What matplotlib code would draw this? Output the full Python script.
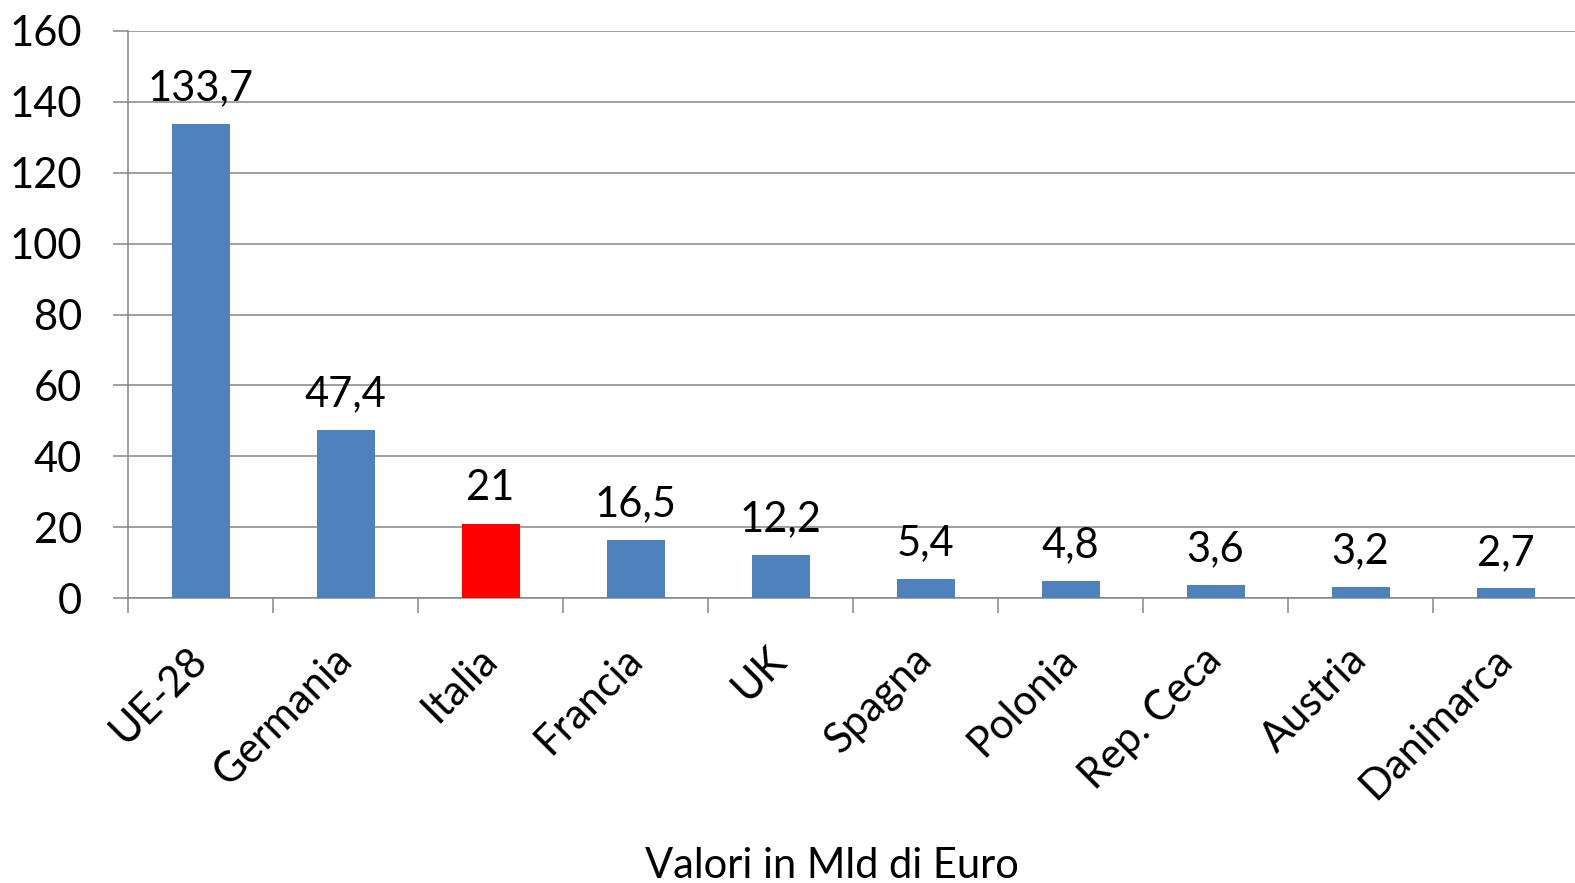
import matplotlib.pyplot as plt
import numpy as np

# data
paesi = ['UE-28', 'Germania', 'Italia', 'Francia', 'UK', 'Spagna',
         'Polonia', 'Rep. Ceca', 'Austria', 'Danimarca']
valori = [133.7, 47.4, 21, 16.5, 12.2, 5.4, 4.8, 3.6, 3.2, 2.7]
evidenza = 'Italia'

y_ticks = [0, 20, 40, 60, 80, 100, 120, 140, 160]
x_titolo = 'Valori in Mld di Euro'

BLU = '#4f81bd'
ROSSO = '#ff0000'
GRIGIO = '#868686'

plt.rcParams['font.family'] = ['Lato', 'DejaVu Sans']

fig = plt.figure(figsize=(15.75, 8.83), dpi=100)
ax = fig.add_axes([128/1575, 285/883, 1450/1575, 567/883])

x = np.arange(len(paesi))
colori = [ROSSO if p == evidenza else BLU for p in paesi]
bars = ax.bar(x, valori, width=0.4, color=colori, zorder=3)

def fmt(v):
    s = ('%g' % v)
    return s.replace('.', ',')

for b, v in zip(bars, valori):
    ax.annotate(fmt(v), (b.get_x() + b.get_width()/2, v),
                xytext=(0, 17), textcoords='offset points',
                ha='center', va='baseline', fontsize=30)

ax.set_xlim(-0.5, len(paesi) - 0.5)
ax.set_ylim(0, 160)
ax.set_yticks(y_ticks)
ax.tick_params(axis='y', labelsize=30, length=11, width=1.1, color=GRIGIO, pad=22)
ax.yaxis.grid(True, color=GRIGIO, linewidth=1.1, zorder=0)
ax.set_axisbelow(True)

# category labels at centres, tick marks at boundaries
ax.set_xticks(x)
ax.set_xticklabels(paesi, rotation=45, ha='right', va='center',
                   rotation_mode='anchor', fontsize=30)
ax.tick_params(axis='x', which='major', length=0, pad=40)
ax.set_xticks(np.arange(len(paesi) + 1) - 0.5, minor=True)
ax.tick_params(axis='x', which='minor', length=11, width=1.1, color=GRIGIO)

for s in ['top', 'right']:
    ax.spines[s].set_visible(False)
for s in ['left', 'bottom']:
    ax.spines[s].set_color(GRIGIO)
    ax.spines[s].set_linewidth(1.1)

fig.text(832/1575, 5/883, x_titolo, ha='center', va='baseline', fontsize=30)

fig.savefig('out.png', dpi=100)
